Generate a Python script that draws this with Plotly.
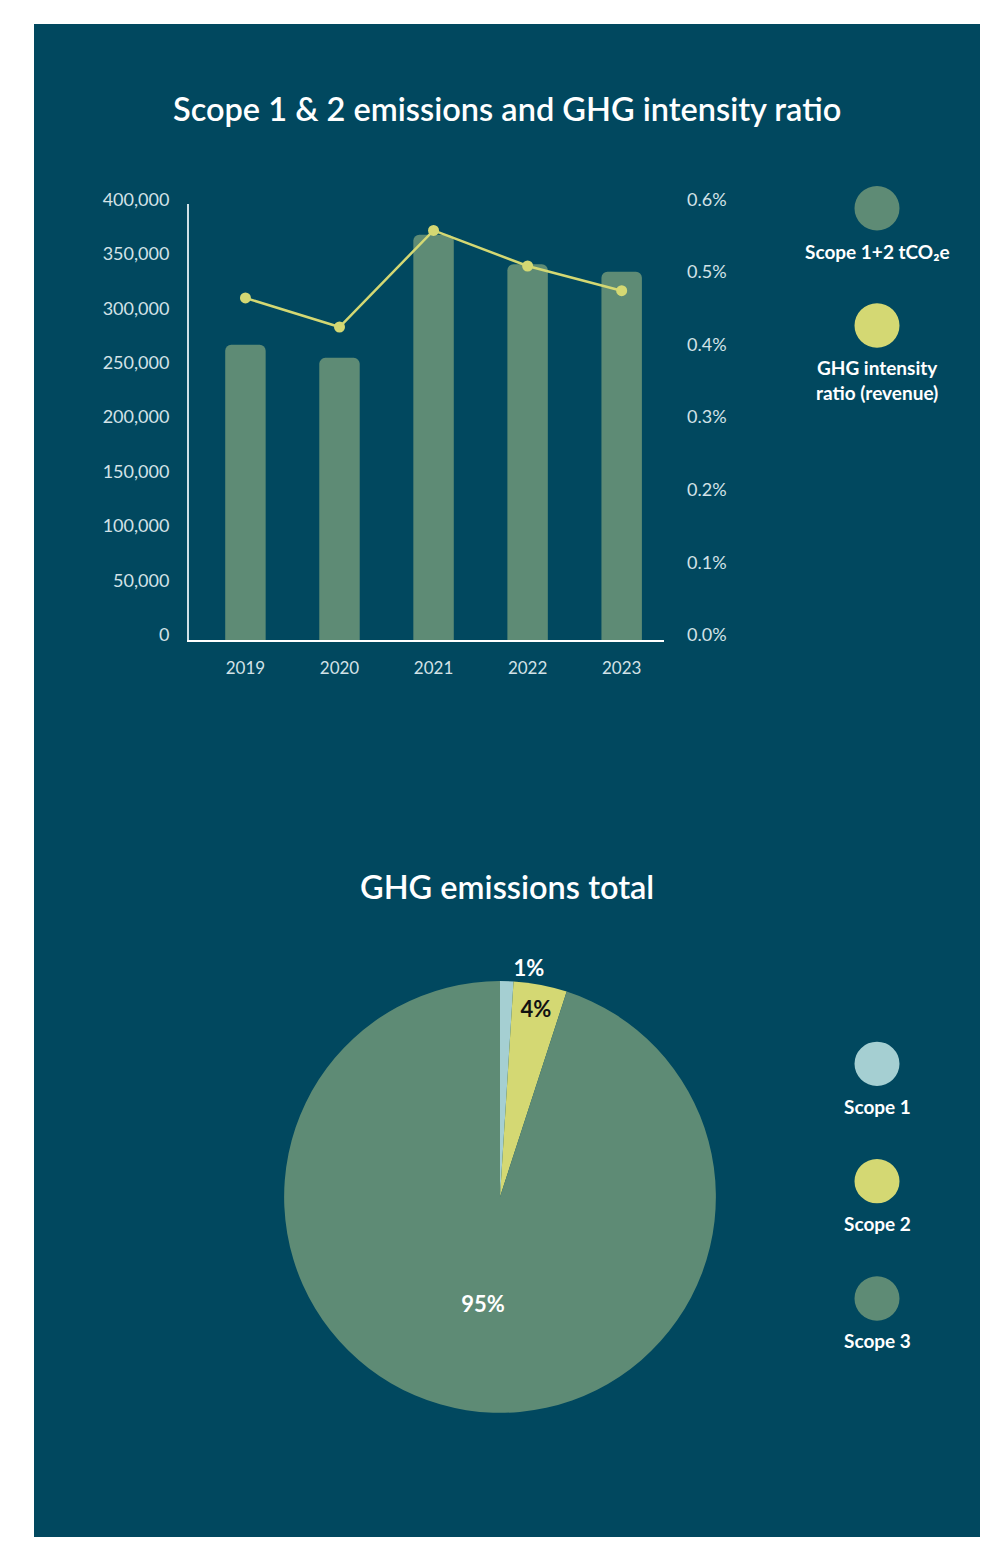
import plotly.graph_objects as go

# Data
years = ["2019", "2020", "2021", "2022", "2023"]
scope12_tco2e = [271000, 259000, 372000, 345000, 338000]
intensity_pct = [0.471, 0.431, 0.564, 0.515, 0.481]

scopes = ["Scope 1", "Scope 2", "Scope 3"]
scope_share = [1, 4, 95]

y_ticks = [0, 50000, 100000, 150000, 200000, 250000, 300000, 350000, 400000]
y2_ticks = [0.0, 0.1, 0.2, 0.3, 0.4, 0.5, 0.6]

W, H = 988, 1542
BG = "#01485f"
GREEN = "#5e8b75"
YELLOW = "#d4d873"
LIGHTBLUE = "#a5cfd2"
TICK = "#d3e2e7"
FONT = "Lato"


def px(x):
    return x / W


def py(y):
    return 1 - y / H


fig = go.Figure()

fig.add_trace(go.Bar(
    x=years, y=scope12_tco2e, marker=dict(color=GREEN, line=dict(width=0)),
    width=0.43, xaxis="x", yaxis="y", showlegend=False, hoverinfo="x+y",
))
fig.add_trace(go.Scatter(
    x=years, y=intensity_pct, mode="lines+markers",
    line=dict(color=YELLOW, width=2.5), marker=dict(color=YELLOW, size=11),
    xaxis="x", yaxis="y2", showlegend=False,
))

fig.add_trace(go.Pie(
    labels=scopes, values=scope_share, sort=False, direction="clockwise",
    rotation=0, marker=dict(colors=[LIGHTBLUE, YELLOW, GREEN], line=dict(width=0)),
    texttemplate="%{value}%", textposition=["outside", "inside", "inside"],
    insidetextorientation="horizontal",
    textfont=dict(family=FONT, size=22, color=["white", "#111111", "white"], weight="bold"),
    domain=dict(x=[px(281), px(719)], y=[py(1416), py(978)]),
    showlegend=False, hole=0,
))

shapes = [dict(type="rect", xref="paper", yref="paper", x0=px(34), x1=px(980),
               y0=0, y1=py(7), fillcolor=BG, line=dict(width=0), layer="below")]

annotations = [
    dict(text="Scope 1 & 2 emissions and GHG intensity ratio", x=px(507), y=py(93),
         font=dict(family=FONT, size=32.5, color="white", weight=600)),
    dict(text="GHG emissions total", x=px(507), y=py(882),
         font=dict(family=FONT, size=32.5, color="white", weight=600)),
]

legend_items = [
    (877, 194, GREEN, "Scope 1+2 tCO₂e", 238),
    (877, 313, YELLOW, "GHG intensity<br>ratio (revenue)", 368),
    (877, 1062, LIGHTBLUE, "Scope 1", 1105),
    (877, 1181, YELLOW, "Scope 2", 1224),
    (877, 1300, GREEN, "Scope 3", 1343),
]
R = 22.5
for cx, cy, col, label, ly in legend_items:
    shapes.append(dict(type="circle", xref="paper", yref="paper",
                       x0=px(cx - R), x1=px(cx + R), y0=py(cy + R), y1=py(cy - R),
                       fillcolor=col, line=dict(width=0)))
    annotations.append(dict(text=label, x=px(cx), y=py(ly),
                            font=dict(family=FONT, size=19, color="white", weight="bold")))

for a in annotations:
    a.update(xref="paper", yref="paper", showarrow=False, xanchor="center", yanchor="middle")

fig.update_layout(
    width=W, height=H, margin=dict(l=0, r=0, t=0, b=0),
    paper_bgcolor="white", plot_bgcolor="rgba(0,0,0,0)",
    font=dict(family=FONT, color=TICK),
    shapes=shapes, annotations=annotations,
    barcornerradius=6,
    xaxis=dict(domain=[px(189), px(664)], range=[-0.6, 4.45], type="category",
               showgrid=False, zeroline=False, showline=True, linecolor="white", linewidth=2,
               ticks="", tickfont=dict(size=17, color=TICK), ticklabelstandoff=12,
               anchor="y"),
    yaxis=dict(domain=[py(632), py(190)], range=[0, 400000], tickvals=y_ticks,
               tickformat=",d", showgrid=False, zeroline=False, showline=True,
               linecolor="#cfe0e6", linewidth=2, ticks="",
               tickfont=dict(size=18, color=TICK), ticklabelstandoff=14, ticklabelshift=-5,
               anchor="x"),
    yaxis2=dict(overlaying="y", side="right", range=[0, 0.6], tickvals=y2_ticks,
                ticktext=[f"{v:.1f}%" for v in y2_ticks], showgrid=False, zeroline=False,
                showline=False, ticks="", tickfont=dict(size=18, color=TICK),
                ticklabelstandoff=22, ticklabelshift=-5, anchor="x"),
)

fig.write_html("out.html")
